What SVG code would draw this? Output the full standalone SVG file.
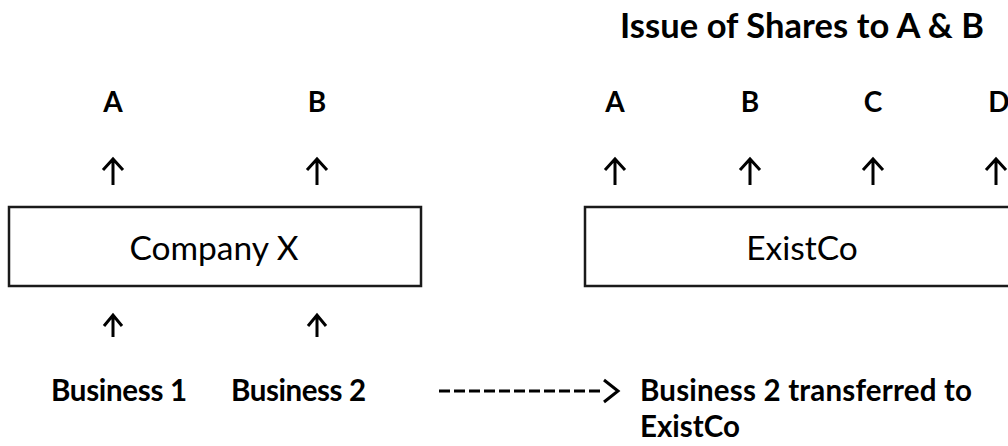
<svg xmlns="http://www.w3.org/2000/svg" width="1008" height="446" viewBox="0 0 1008 446">
<style>
text{font-family:Lato,"Open Sans","Liberation Sans",sans-serif;fill:#000}
.b{font-weight:bold}
.lbl{font-size:28px;font-weight:bold;text-anchor:middle}
.biz{font-size:29.5px;font-weight:bold}
.box{fill:#fff;stroke:#1a1a1a;stroke-width:2.5}
.boxt{font-size:33.5px;text-anchor:middle}
.arr{fill:none;stroke:#000;stroke-width:3;stroke-linecap:butt}
</style>
<rect width="1008" height="446" fill="#fff"/>
<g id="title"><text class="b" x="620" y="38" font-size="34.5" textLength="364">Issue of Shares to A &amp; B</text></g>
<g id="shA1"><text class="lbl" x="113" y="112">A</text></g>
<g id="shB1"><text class="lbl" x="317" y="112">B</text></g>
<g id="shA2"><text class="lbl" x="615" y="112">A</text></g>
<g id="shB2"><text class="lbl" x="750" y="112">B</text></g>
<g id="shC2"><text class="lbl" x="873" y="112">C</text></g>
<g id="shD2"><text class="lbl" x="999" y="112">D</text></g>
<g id="companyX"><rect class="box" x="9" y="207" width="412" height="79"/><text class="boxt" x="214" y="260">Company X</text></g>
<g id="existCo"><rect class="box" x="585" y="207" width="440" height="79"/><text class="boxt" x="802" y="260">ExistCo</text></g>
<g id="biz1"><text class="biz" x="51" y="401" textLength="136">Business 1</text></g>
<g id="biz2"><text class="biz" x="231" y="401" textLength="135">Business 2</text></g>
<g id="transfer"><text class="biz" x="640" y="401" textLength="332">Business 2 transferred to</text><text class="biz" x="640" y="437">ExistCo</text></g>
<g id="connectors">
<path class="arr" d="M113 185V160M103 170L113 159L123 170"/>
<path class="arr" d="M317 185V160M307 170L317 159L327 170"/>
<path class="arr" d="M615 185V160M605 170L615 159L625 170"/>
<path class="arr" d="M750 185V160M740 170L750 159L760 170"/>
<path class="arr" d="M873 185V160M863 170L873 159L883 170"/>
<path class="arr" d="M996 185V160M986 170L996 159L1006 170"/>
<path class="arr" d="M113 337V316M104 326L113 315L122 326"/>
<path class="arr" d="M317 337V316M308 326L317 315L326 326"/>
<path class="arr" d="M439 391H602" stroke-dasharray="11 4"/>
<path class="arr" d="M604 380L618 391L604 402"/>
</g>
</svg>
